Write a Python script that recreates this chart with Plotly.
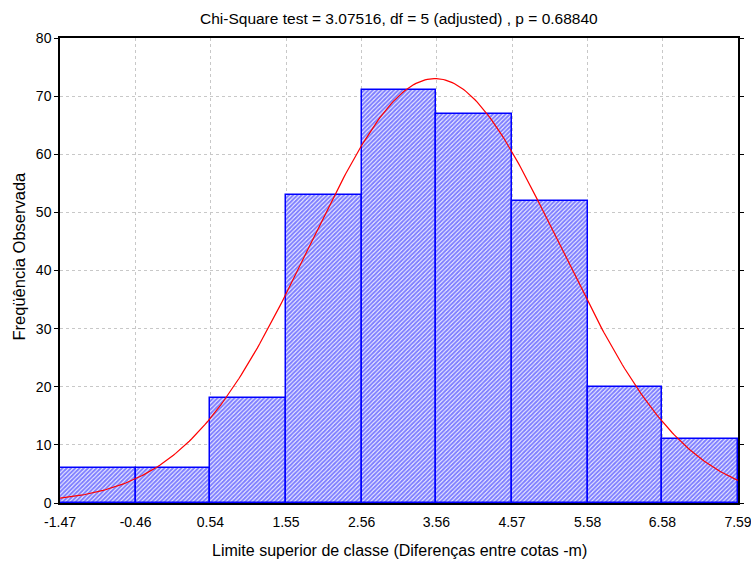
import numpy as np
import plotly.graph_objects as go

edges = [-1.47, -0.46, 0.54, 1.55, 2.56, 3.56, 4.57, 5.58, 6.58, 7.59]
edge_labels = ["-1.47", "-0.46", "0.54", "1.55", "2.56", "3.56", "4.57", "5.58", "6.58", "7.59"]
counts = [6, 6, 18, 53, 71, 67, 52, 20, 11]
fit_mean = 3.54
fit_sd = 1.672

centers = [(edges[i] + edges[i + 1]) / 2 for i in range(len(counts))]
widths = [edges[i + 1] - edges[i] for i in range(len(counts))]
n_total = sum(counts)
bin_w = (edges[-1] - edges[0]) / len(counts)

xs = np.linspace(edges[0], edges[-1], 300)
ys = n_total * bin_w / (fit_sd * np.sqrt(2 * np.pi)) * np.exp(-0.5 * ((xs - fit_mean) / fit_sd) ** 2)

FONT = "Liberation Sans, Arial, sans-serif"

fig = go.Figure()
fig.add_trace(go.Bar(
    x=centers, y=counts, width=widths,
    marker=dict(color="white", line=dict(color="#0000ff", width=1.5),
                pattern=dict(shape="/", fgcolor="#0000ff", bgcolor="white", size=3, solidity=0.7)),
    showlegend=False,
))
fig.add_trace(go.Scatter(x=xs, y=ys, mode="lines", line=dict(color="#ff0000", width=1.2), showlegend=False))

plot_h = 561 - 38 - 58
plot_w = 751 - 60 - 13

fig.update_layout(
    width=751, height=561,
    margin=dict(l=60, r=13, t=38, b=58, autoexpand=False),
    paper_bgcolor="white", plot_bgcolor="white",
    font=dict(family=FONT, size=13, color="black"),
    bargap=0,
    annotations=[
        dict(text="Chi-Square test = 3.07516, df = 5 (adjusted) , p = 0.68840",
             x=0.5, xref="paper", y=1 + (38 - 18) / plot_h, yref="paper", yanchor="middle",
             showarrow=False, font=dict(size=15.5)),
        dict(text="Limite superior de classe (Diferenças entre cotas -m)",
             x=0.5, xref="paper", y=-(550 - 503) / plot_h, yref="paper", yanchor="middle",
             showarrow=False, font=dict(size=16)),
        dict(text="Freqüência Observada", textangle=-90,
             x=-(60 - 19) / plot_w, xref="paper", xanchor="center", y=0.53, yref="paper",
             showarrow=False, font=dict(size=16.5)),
    ],
)

fig.update_xaxes(
    range=[edges[0], edges[-1]], tickvals=edges, ticktext=edge_labels,
    showgrid=True, gridcolor="#c8c8c8", griddash="dot", gridwidth=1,
    showline=True, linecolor="black", linewidth=1.5, mirror=True,
    ticks="", zeroline=False, automargin=False, ticklabelstandoff=5,
    ticklabeloverflow="allow", tickfont=dict(size=14),
)
fig.update_yaxes(
    range=[0, 80], tickvals=list(range(0, 81, 10)),
    showgrid=True, gridcolor="#c8c8c8", griddash="dot", gridwidth=1,
    showline=True, linecolor="black", linewidth=1.5, mirror="ticks",
    ticks="outside", ticklen=4, tickcolor="black", zeroline=False, automargin=False,
    tickfont=dict(size=14),
)

fig.write_html("out.html")
